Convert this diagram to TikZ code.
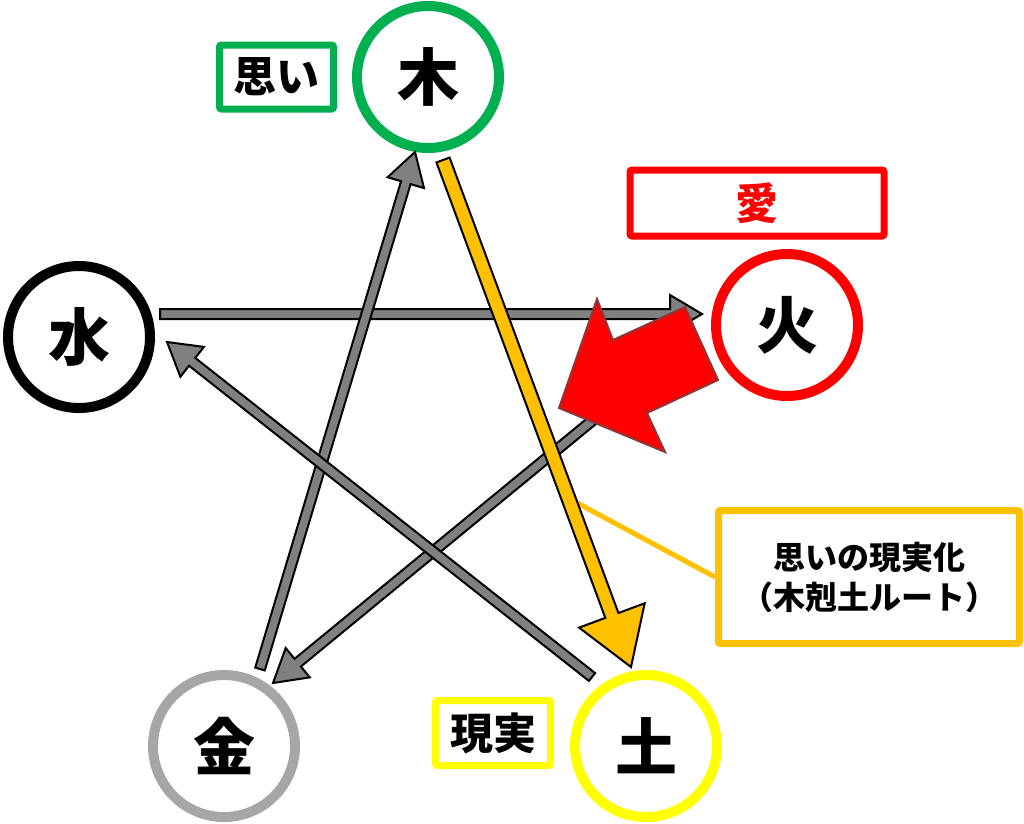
\documentclass[tikz,border=0pt]{standalone}
\usepackage{fontspec}
\usepackage{tikz}
\usetikzlibrary{positioning,calc}
\newfontfamily\jpfont{Noto Sans CJK JP}
\definecolor{colorwood} {RGB}{0,176,80}
\definecolor{colorfire} {RGB}{255,0,0}
\definecolor{colorearth}{RGB}{255,255,0}
\definecolor{colormetal}{RGB}{166,166,166}
\definecolor{colorwater}{RGB}{0,0,0}
\definecolor{colorflow} {RGB}{128,128,128}
\definecolor{colorroute}{RGB}{255,192,0}
\definecolor{colorrim}  {RGB}{140,56,58}

\begin{document}
\begin{tikzpicture}[
    x=1pt, y=-1pt,
    font={\jpfont\bfseries},
    element/.style={circle,draw,line width=10pt,minimum size=142pt,inner sep=0pt,font={\jpfont\bfseries\fontsize{62}{66}\selectfont}},
    tag/.style={rectangle,draw,line width=7pt,rounded corners=2pt,inner sep=0pt,font={\jpfont\bfseries\fontsize{43}{47}\selectfont}},
    blockarrow/.style={to path={
        ($(\tikztostart)!\flowShaft!90:(\tikztotarget)$)
        -- ($(\tikztotarget)!\flowLen!(\tikztostart)!\flowShaft!-90:(\tikztostart)$)
        -- ($(\tikztotarget)!\flowLen!(\tikztostart)!\flowHead!-90:(\tikztostart)$)
        -- (\tikztotarget)
        -- ($(\tikztotarget)!\flowLen!(\tikztostart)!\flowHead!90:(\tikztostart)$)
        -- ($(\tikztotarget)!\flowLen!(\tikztostart)!\flowShaft!90:(\tikztostart)$)
        -- ($(\tikztostart)!\flowShaft!-90:(\tikztotarget)$) -- cycle}},
    flow/.style={blockarrow,draw=black,fill=colorflow,line width=2pt,line join=miter,
        /utils/exec={\def\flowShaft{5pt}\def\flowHead{19pt}\def\flowLen{32pt}}},
    route/.style={flow,fill=colorroute,
        /utils/exec={\def\flowShaft{7pt}\def\flowHead{35pt}\def\flowLen{55pt}}},
    bigarrow/.style={fill=colorfire,draw=colorrim,line width=2pt,line join=miter},
]
    \useasboundingbox (0,0) rectangle (1024,823);

    % Elements
    \node[element,draw=colorwood]  (wood)  at (428,77)  {木};
    \node[element,draw=colorwater] (water) at (79,337)  {水};
    \node[element,draw=colorfire]  (fire)  at (787,325) {火};
    \node[element,draw=colormetal] (metal) at (224,746) {金};
    \node[element,draw=colorearth] (earth) at (646,746) {土};

    % Tags
    \node[tag,draw=colorwood,minimum width=114pt,minimum height=64pt,left=15pt of wood] (woodTag) {思い};
    \node[tag,draw=colorfire,text=colorfire,minimum width=254pt,minimum height=66pt] (fireTag) at (757,203) {愛};
    \node[tag,draw=colorearth,minimum width=115pt,minimum height=65pt,left=16pt of earth,yshift=13pt] (earthTag) {現実};
    \node[tag,draw=colorroute,minimum width=301pt,minimum height=133pt,align=center,
          font={\jpfont\bfseries\fontsize{32}{40}\selectfont}] (routeNote) at (869,577) {思いの現実化\\（木剋土ルート）};

    % Arrow ends
    \coordinate (waterOut) at (160,314);
    \coordinate (fireIn)   at (702,314);
    \coordinate (fireOut)  at (610,406);
    \coordinate (metalIn)  at (273,683);
    \coordinate (metalOut) at (260,669);
    \coordinate (woodIn)   at (415,152);
    \coordinate (earthOut) at (592,677);
    \coordinate (waterIn)  at (167,342);
    \coordinate (woodOut)  at (443,160);
    \coordinate (earthIn)  at (631,667);
    \coordinate (routePin) at ($(woodOut)!0.667!(earthIn)$);

    % Element relations
    \draw[colorroute,line width=5pt] (routePin) -- (routeNote.west);
    \draw[flow] (waterOut) to (fireIn);
    \draw[flow] (fireOut) to (metalIn);
    \draw[flow] (metalOut) to (woodIn);
    \draw[flow] (earthOut) to (waterIn);
    \draw[route] (woodOut) to (earthIn);

    \draw[bigarrow] (685,307) -- (718,380) -- (647,413) -- (665,452) -- (559,408) -- (597,299) -- (613,340) -- cycle;

\end{tikzpicture}
\end{document}
